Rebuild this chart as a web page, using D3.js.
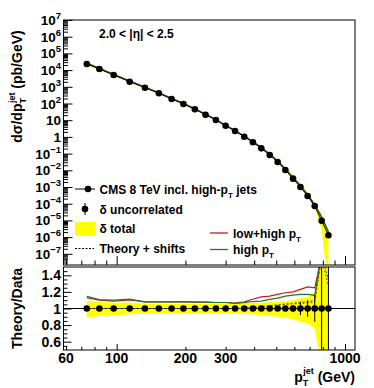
<!DOCTYPE html>
<html><head><meta charset="utf-8">
<script src="https://cdn.jsdelivr.net/npm/d3@7"></script>
<style>
body{margin:0;background:#fff}
svg text{font-family:"Liberation Sans",Arial,Helvetica,sans-serif;font-weight:bold;fill:#000}
</style>
</head><body><svg id="c" width="374" height="388"></svg>
<script>
// ---------------- data ----------------
const ptBins = [74,84,97,114,133,153,174,196,220,245,272,300,330,362,395,430,468,507,548,592,638,686,737,790,846];
const xsec = [2.32e4,1.16e4,5.09e3,2.02e3,883,408,186,93.3,45.0,21.3,10.3,4.69,2.25,1.03,0.475,0.207,0.0824,0.0314,0.0105,3.16e-3,1.0e-3,2.88e-4,7.24e-5,9.55e-6,1.29e-6];
// relative uncorrelated error (ratio units)
const uncErr = [0.005,0.005,0.005,0.005,0.005,0.005,0.005,0.005,0.005,0.005,0.006,0.006,0.007,0.01,0.01,0.015,0.02,0.025,0.03,0.04,0.08,0.1,0.16,0.8,1.0];
// total uncertainty band (ratio units)
const totLow  = [0.89,0.91,0.92,0.93,0.94,0.94,0.94,0.94,0.94,0.94,0.94,0.94,0.94,0.935,0.93,0.92,0.91,0.90,0.89,0.87,0.84,0.82,0.76,0.3,0.0];
const totHigh = [1.09,1.08,1.07,1.07,1.06,1.055,1.055,1.055,1.055,1.055,1.055,1.055,1.055,1.06,1.065,1.07,1.075,1.08,1.09,1.10,1.12,1.14,1.19,1.6,1.6];
// theory / data
const ratioLowHigh = [1.132,1.10,1.09,1.105,1.08,1.08,1.08,1.082,1.076,1.076,1.072,1.072,1.065,1.08,1.112,1.14,1.15,1.17,1.19,1.20,1.23,1.26,1.25,1.62,1.6];
const ratioHigh    = [1.148,1.108,1.10,1.112,1.08,1.08,1.08,1.082,1.076,1.076,1.072,1.072,1.06,1.07,1.084,1.09,1.11,1.125,1.15,1.16,1.17,1.17,1.16,1.7,1.6];
const shiftLowHigh = [1.0,1.0,1.0,1.0,1.0,1.0,1.0,1.0,1.0,1.0,1.0,1.0,1.0,1.0,1.01,1.02,1.03,1.04,1.05,1.055,1.06,1.07,1.08,1.6,1.28];
const shiftHigh    = [1.0,1.0,1.0,1.0,1.0,1.0,1.0,1.0,1.0,1.0,1.0,1.0,1.0,1.005,1.015,1.025,1.035,1.045,1.055,1.065,1.075,1.08,1.1,1.65,1.35];
const yTopTicks = [1e7,1e6,1e5,1e4,1e3,1e2,10,1,1e-1,1e-2,1e-3,1e-4,1e-5,1e-6,1e-7];
const ratioTicks = [0.6,0.8,1,1.2,1.4];
const xTickLabels = [60,100,200,300,1000];
const etaLabel = "2.0 < |η| < 2.5";

// ---------------- layout ----------------
const L=63.5, R=355, T1=20, B1=265, T2=267, B2=350;
const RED="#c41a1a", GREEN="#1f7d1f", YEL="#ffff00";
const svg = d3.select("#c");
const x = d3.scaleLog().domain([58.5,1106]).range([L,R]);
const yTop = d3.scaleLog().domain([Math.pow(10,-7.67),1e7]).range([B1,T1]);
const yR = d3.scaleLinear().domain([0.5,1.5]).range([B2,T2]);

const rows = ptBins.map((p,i)=>({p, v:xsec[i], e:uncErr[i], lo:totLow[i], hi:totHigh[i],
  rLH:ratioLowHigh[i], rH:ratioHigh[i], sLH:shiftLowHigh[i], sH:shiftHigh[i]}));

const defs = svg.append("defs");
defs.append("clipPath").attr("id","c1").append("rect").attr("x",L).attr("y",T1).attr("width",R-L).attr("height",B1-T1);
defs.append("clipPath").attr("id","c2").append("rect").attr("x",L).attr("y",T2).attr("width",R-L).attr("height",B2-T2);

// ---------------- top panel ----------------
const g1 = svg.append("g").attr("clip-path","url(#c1)");
const clampY = v => Math.max(v,1e-9);
g1.append("path").datum(rows).attr("fill",YEL)
  .attr("d", d3.area().x(d=>x(d.p)).y0(d=>yTop(clampY(d.v*d.lo))).y1(d=>yTop(d.v*d.hi)));
g1.append("path").datum(rows).attr("fill","none").attr("stroke",RED).attr("stroke-width",1.3)
  .attr("d", d3.line().x(d=>x(d.p)).y(d=>yTop(d.v*d.rLH)));
g1.append("path").datum(rows).attr("fill","none").attr("stroke",GREEN).attr("stroke-width",1.3)
  .attr("d", d3.line().x(d=>x(d.p)).y(d=>yTop(d.v*d.rH)));
g1.append("path").datum(rows).attr("fill","none").attr("stroke","#000").attr("stroke-width",1)
  .attr("d", d3.line().x(d=>x(d.p)).y(d=>yTop(d.v)));
g1.selectAll("circle").data(rows).join("circle").attr("cx",d=>x(d.p)).attr("cy",d=>yTop(d.v)).attr("r",3.3).attr("fill","#000");

// ---------------- ratio panel ----------------
const g2 = svg.append("g").attr("clip-path","url(#c2)");
g2.append("path").datum(rows).attr("fill",YEL)
  .attr("d", d3.area().x(d=>x(d.p)).y0(d=>yR(d.lo)).y1(d=>yR(d.hi)));
g2.append("line").attr("x1",L).attr("x2",R).attr("y1",yR(1)).attr("y2",yR(1)).attr("stroke","#000").attr("stroke-width",1);
g2.append("path").datum(rows).attr("fill","none").attr("stroke",RED).attr("stroke-width",1.2)
  .attr("d", d3.line().x(d=>x(d.p)).y(d=>yR(d.rLH)));
g2.append("path").datum(rows).attr("fill","none").attr("stroke",GREEN).attr("stroke-width",1.2)
  .attr("d", d3.line().x(d=>x(d.p)).y(d=>yR(d.rH)));
g2.append("path").datum(rows).attr("fill","none").attr("stroke",RED).attr("stroke-width",1).attr("stroke-dasharray","2,2")
  .attr("d", d3.line().x(d=>x(d.p)).y(d=>yR(d.sLH)));
g2.append("path").datum(rows).attr("fill","none").attr("stroke",GREEN).attr("stroke-width",1).attr("stroke-dasharray","2,2")
  .attr("d", d3.line().x(d=>x(d.p)).y(d=>yR(d.sH)));
g2.selectAll("line.err").data(rows).join("line").attr("class","err")
  .attr("x1",d=>x(d.p)).attr("x2",d=>x(d.p)).attr("y1",d=>yR(1-d.e)).attr("y2",d=>yR(1+d.e)).attr("stroke","#000").attr("stroke-width",1);
g2.selectAll("circle").data(rows).join("circle").attr("cx",d=>x(d.p)).attr("cy",yR(1)).attr("r",3.3).attr("fill","#000");

// ---------------- axes ----------------
function decadeMinors(lo, hi){ const out=[]; for(let e=lo;e<hi;e++){ for(let k=2;k<=9;k++) out.push(k*Math.pow(10,e)); } return out; }
const yMinor = decadeMinors(-8,7).filter(v=>yTop(v)>=T1 && yTop(v)<=B1);
svg.append("g").attr("transform",`translate(${L},0)`).call(d3.axisLeft(yTop).tickValues(yMinor).tickSize(-4.5).tickFormat("")).call(g=>g.select(".domain").remove());
svg.append("g").attr("transform",`translate(${L},0)`).call(d3.axisLeft(yTop).tickValues(yTopTicks).tickSize(-9).tickFormat("")).call(g=>g.select(".domain").remove());

const xMinor = [60,70,80,90,200,300,400,500,600,700,800,900];
const xMajor = [100,1000];
svg.append("g").attr("transform",`translate(0,${B1})`).call(d3.axisBottom(x).tickValues(xMinor).tickSize(-4.5).tickFormat("")).call(g=>g.select(".domain").remove());
svg.append("g").attr("transform",`translate(0,${B1})`).call(d3.axisBottom(x).tickValues(xMajor).tickSize(-9).tickFormat("")).call(g=>g.select(".domain").remove());
svg.append("g").attr("transform",`translate(0,${B2})`).call(d3.axisBottom(x).tickValues(xMinor).tickSize(-3).tickFormat("")).call(g=>g.select(".domain").remove());
svg.append("g").attr("transform",`translate(0,${B2})`).call(d3.axisBottom(x).tickValues(xMajor).tickSize(-6).tickFormat("")).call(g=>g.select(".domain").remove());

const rMinor = d3.range(0.55,1.5,0.05).map(v=>+v.toFixed(2)).filter(v=>!ratioTicks.includes(v));
svg.append("g").attr("transform",`translate(${L},0)`).call(d3.axisLeft(yR).tickValues(rMinor).tickSize(-4).tickFormat("")).call(g=>g.select(".domain").remove());
svg.append("g").attr("transform",`translate(${L},0)`).call(d3.axisLeft(yR).tickValues(ratioTicks).tickSize(-8).tickFormat("")).call(g=>g.select(".domain").remove());
svg.selectAll(".tick line").attr("stroke","#000").attr("stroke-width",1);

// frames
svg.append("rect").attr("x",L).attr("y",T1).attr("width",R-L).attr("height",B1-T1).attr("fill","none").attr("stroke","#000").attr("stroke-width",1);
svg.append("rect").attr("x",L).attr("y",T2).attr("width",R-L).attr("height",B2-T2).attr("fill","none").attr("stroke","#000").attr("stroke-width",1);

// tick labels: top y
yTopTicks.forEach(v=>{
  const e = Math.round(Math.log10(v));
  const t = svg.append("text").attr("x",61).attr("y",yTop(v)+5).attr("text-anchor","end").style("font-size","13.5px");
  if(e===0){ t.text("1"); }
  else if(e===1){ t.text("10"); }
  else { t.append("tspan").text("10"); t.append("tspan").attr("dy",-6).style("font-size","9.5px").text(e<0?"\u2212"+(-e):String(e)); }
});
ratioTicks.forEach(v=>{
  svg.append("text").attr("x",61).attr("y",yR(v)+5).attr("text-anchor","end").style("font-size","14px").text(String(v));
});
xTickLabels.forEach(v=>{
  svg.append("text").attr("x",x(v)).attr("y",363).attr("text-anchor","middle").style("font-size","14px").text(String(v));
});

// axis titles
const yt = svg.append("text").attr("transform",`translate(22,${(T1+B1)/2-56}) rotate(-90)`).attr("text-anchor","middle").style("font-size","14px");
yt.append("tspan").text("d\u03C3/dp");
yt.append("tspan").attr("dy",4).style("font-size","9px").text("T");
yt.append("tspan").attr("dy",-11).attr("dx",-5).style("font-size","9px").text("jet");
yt.append("tspan").attr("dy",7).text(" (pb/GeV)");
svg.append("text").attr("transform",`translate(22,${(T2+B2)/2}) rotate(-90)`).attr("text-anchor","middle").style("font-size","14px").text("Theory/Data");
const xt = svg.append("text").attr("x",R).attr("y",382).attr("text-anchor","end").style("font-size","14px");
xt.append("tspan").text("p");
xt.append("tspan").attr("dy",4).style("font-size","9px").text("T");
xt.append("tspan").attr("dy",-12).attr("dx",-5).style("font-size","9px").text("jet");
xt.append("tspan").attr("dy",8).text(" (GeV)");

// eta label
svg.append("text").attr("x",99).attr("y",37.5).style("font-size","12px").text(etaLabel);

// ---------------- legend ----------------
const lg = svg.append("g");
lg.append("line").attr("x1",75).attr("x2",95).attr("y1",189).attr("y2",189).attr("stroke","#000");
lg.append("circle").attr("cx",88).attr("cy",189).attr("r",3.3).attr("fill","#000");
const t1 = lg.append("text").attr("x",99.5).attr("y",193.5).style("font-size","12px");
t1.append("tspan").text("CMS 8 TeV incl. high-p");
t1.append("tspan").attr("dy",4).style("font-size","8px").text("T");
t1.append("tspan").attr("dy",-4).text(" jets");
lg.append("line").attr("x1",85).attr("x2",85).attr("y1",203).attr("y2",215).attr("stroke","#000");
lg.append("circle").attr("cx",85).attr("cy",209).attr("r",3.3).attr("fill","#000");
lg.append("text").attr("x",99.5).attr("y",213.5).style("font-size","12px").text("\u03B4 uncorrelated");
lg.append("rect").attr("x",75).attr("y",222).attr("width",20).attr("height",13.5).attr("fill",YEL);
lg.append("text").attr("x",99.5).attr("y",233).style("font-size","12px").text("\u03B4 total");
lg.append("line").attr("x1",75).attr("x2",94).attr("y1",248.5).attr("y2",248.5).attr("stroke","#000").attr("stroke-dasharray","2,1.5");
lg.append("text").attr("x",99.5).attr("y",253).style("font-size","12px").text("Theory + shifts");
lg.append("line").attr("x1",210).attr("x2",228).attr("y1",233).attr("y2",233).attr("stroke",RED).attr("stroke-width",1.3);
const t2 = lg.append("text").attr("x",233).attr("y",237.5).style("font-size","12px");
t2.append("tspan").text("low+high p");
t2.append("tspan").attr("dy",4).style("font-size","8px").text("T");
lg.append("line").attr("x1",210).attr("x2",228).attr("y1",249.5).attr("y2",249.5).attr("stroke",GREEN).attr("stroke-width",1.3);
const t3 = lg.append("text").attr("x",233).attr("y",254).style("font-size","12px");
t3.append("tspan").text("high p");
t3.append("tspan").attr("dy",4).style("font-size","8px").text("T");
</script></body></html>
